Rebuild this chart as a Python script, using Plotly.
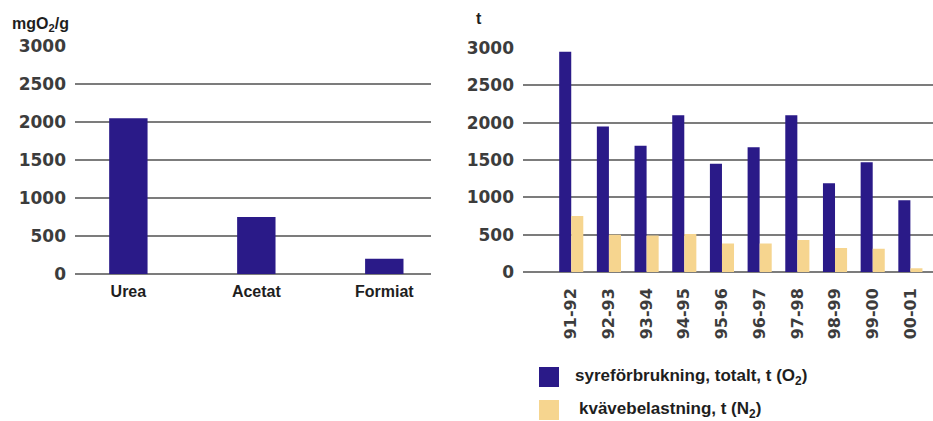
import plotly.graph_objects as go

# Oxygen demand per substance (mgO2/g)
substances = ["Urea", "Acetat", "Formiat"]
oxygen_demand = [2050, 750, 200]

# Yearly loads (t)
seasons = ["91-92", "92-93", "93-94", "94-95", "95-96",
           "96-97", "97-98", "98-99", "99-00", "00-01"]
oxygen_total = [2950, 1950, 1690, 2100, 1450, 1670, 2100, 1190, 1470, 960]
nitrogen_load = [750, 500, 490, 510, 380, 380, 430, 320, 310, 50]

y_ticks = [0, 500, 1000, 1500, 2000, 2500, 3000]

BLUE = "#2a1a88"
YELLOW = "#f6d58f"
GRID = "#7c7c7c"
TICK_COLOR = "#3c3c3c"
W, H = 933, 421
Y_TOP = 3010  # a little headroom so the 3000 gridline is drawn

fig = go.Figure()

fig.add_trace(go.Bar(
    x=substances, y=oxygen_demand, name="mgO2/g",
    marker=dict(color=BLUE, line=dict(width=0)),
    width=0.3, xaxis="x", yaxis="y", showlegend=False,
))

fig.add_trace(go.Bar(
    x=seasons, y=oxygen_total, name="syreförbrukning, totalt, t (O2)",
    marker=dict(color=BLUE, line=dict(width=0)),
    xaxis="x2", yaxis="y2", showlegend=False,
))
fig.add_trace(go.Bar(
    x=seasons, y=nitrogen_load, name="kvävebelastning, t (N2)",
    marker=dict(color=YELLOW, line=dict(width=0)),
    xaxis="x2", yaxis="y2", showlegend=False,
))

ytick_font = dict(family="DejaVu Sans", size=17, color=TICK_COLOR, weight="bold")
label_font = dict(family="Liberation Sans", size=16, color="#1e1e1e", weight="bold")


def y_domain(px_zero, px_3000):
    # pixel rows of the 0 and 3000 gridlines -> paper domain
    per_unit = (px_zero - px_3000) / 3000
    top_px = px_zero - Y_TOP * per_unit
    return [(H - px_zero) / H, (H - top_px) / H]


common_y = dict(
    range=[0, Y_TOP], tickvals=y_ticks, showgrid=True, gridcolor=GRID,
    gridwidth=2, zeroline=True, zerolinecolor=GRID, zerolinewidth=2,
    showline=False, ticks="", tickfont=ytick_font, fixedrange=True,
    ticklabelstandoff=8, automargin=False,
)
common_x = dict(
    type="category", showgrid=False, showline=False, ticks="", zeroline=False,
    automargin=False, fixedrange=True,
)

fig.update_layout(
    width=W, height=H,
    margin=dict(l=0, r=0, t=0, b=0),
    paper_bgcolor="white", plot_bgcolor="white",
    barmode="group", bargap=0.36, bargroupgap=0,
    xaxis=dict(domain=[75 / W, 431 / W], range=[-0.417, 2.365],
               tickfont=label_font, anchor="y", ticklabelstandoff=6, **common_x),
    yaxis=dict(domain=y_domain(274, 46), anchor="x", **common_y),
    xaxis2=dict(domain=[523 / W, 1.0], range=[-1.28, 9.6], tickangle=-90,
                tickfont=dict(ytick_font, size=16), anchor="y2",
                ticklabelstandoff=12, **common_x),
    yaxis2=dict(domain=y_domain(272, 48), anchor="x2", **common_y),
)

# Axis unit labels
fig.add_annotation(x=10 / W, y=1 - 25 / H, xref="paper", yref="paper",
                   xanchor="left", yanchor="middle", showarrow=False,
                   text="mgO<sub>2</sub>/g", font=label_font)
fig.add_annotation(x=479 / W, y=1 - 18 / H, xref="paper", yref="paper",
                   xanchor="center", yanchor="middle", showarrow=False,
                   text="t", font=label_font)

# Legend keys and texts
legend_items = [
    (BLUE, "syreförbrukning, totalt, t (O<sub>2</sub>)", 377, 573),
    (YELLOW, "kvävebelastning, t (N<sub>2</sub>)", 410, 577),
]
for color, text, yc, xt in legend_items:
    fig.add_shape(type="rect", xref="paper", yref="paper",
                  x0=539 / W, x1=559 / W, y0=1 - (yc - 10) / H, y1=1 - (yc + 10) / H,
                  fillcolor=color, line=dict(width=0))
    fig.add_annotation(x=xt / W, y=1 - yc / H, xref="paper", yref="paper",
                       xanchor="left", yanchor="middle", showarrow=False,
                       text=text, font=dict(label_font, size=17))

fig.write_html("out.html", config={"displayModeBar": False})
